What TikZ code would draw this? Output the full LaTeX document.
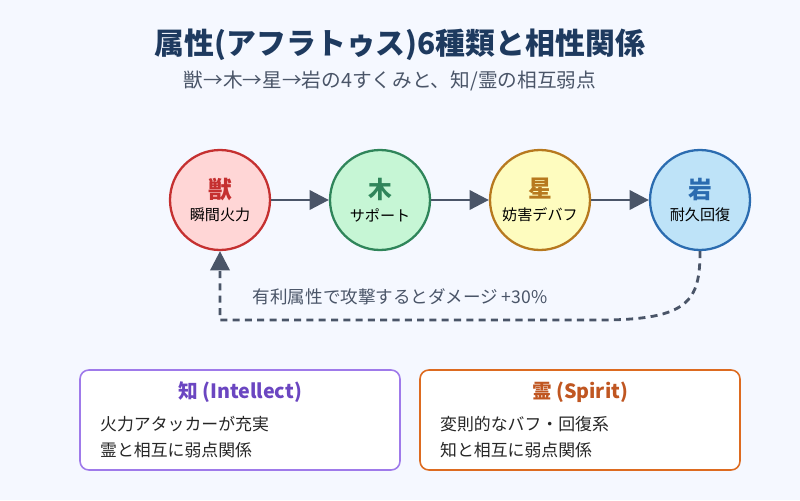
\documentclass[tikz,border=0pt]{standalone}
\usepackage{fontspec}
\setmainfont{Noto Sans CJK JP}
\usetikzlibrary{arrows.meta,positioning}
\definecolor{bgc}{HTML}{F5F8FF}
\definecolor{navy}{HTML}{1E3A5F}
\definecolor{greyt}{HTML}{4A5568}
\definecolor{redf}{HTML}{FFD6D6}\definecolor{redd}{HTML}{C53030}
\definecolor{grnf}{HTML}{C6F6D5}\definecolor{grnd}{HTML}{2F855A}
\definecolor{ylwf}{HTML}{FEFCBF}\definecolor{ylwd}{HTML}{B7791F}
\definecolor{bluf}{HTML}{BEE3F8}\definecolor{blud}{HTML}{2B6CB0}
\definecolor{purd}{HTML}{9F7AEA}\definecolor{purt}{HTML}{6B46C1}
\definecolor{ord}{HTML}{DD6B20}\definecolor{ort}{HTML}{C05621}
\tikzset{
  attr/.style={circle, line width=1.3pt, minimum size=2cm, inner sep=0pt, align=center},
  flow/.style={-{Triangle[length=11pt,width=11pt]}, line width=1.6pt, greyt},
  infobox/.style={draw, line width=0.9pt, rounded corners=5pt, fill=white, minimum width=6.4cm, minimum height=2cm},
}
\newcommand{\attrtext}[3]{{\color{#1}\fontsize{13.5}{15}\selectfont\bfseries #2}\\[1pt]{\fontsize{8.6}{10}\selectfont #3}}
\begin{document}
\begin{tikzpicture}[x=0.02cm,y=-0.02cm]
\fill[bgc] (0,0) rectangle (800,500);
\useasboundingbox (0,0) rectangle (800,500);
\node[navy, font=\fontsize{17}{20}\selectfont\bfseries] (title) at (400,45) {属性(アフラトゥス)6種類と相性関係};
\node[greyt, font=\fontsize{11.2}{13}\selectfont] (subtitle) at (390,81) {獣→木→星→岩の4すくみと、知/霊の相互弱点};

\node[attr, draw=redd, fill=redf] (beast) at (220,200) {\attrtext{redd}{獣}{瞬間火力}};
\node[attr, draw=grnd, fill=grnf] (wood) at (380,200) {\attrtext{grnd}{木}{サポート}};
\node[attr, draw=ylwd, fill=ylwf] (star) at (540,200) {\attrtext{ylwd}{星}{妨害デバフ}};
\node[attr, draw=blud, fill=bluf] (rock) at (700,200) {\attrtext{blud}{岩}{耐久回復}};

\draw[flow] (beast) -- (wood);
\draw[flow] (wood) -- (star);
\draw[flow] (star) -- (rock);
\draw[flow, dashed, dash pattern=on 4pt off 3pt] (rock.south) .. controls (700,300) and (690,320) .. (600,320) -- (220,320) -- (beast.south);
\node[greyt, font=\fontsize{10}{12}\selectfont] (bonus) at (400,297) {有利属性で攻撃するとダメージ +30\%};

\node[infobox, draw=purd] (intl) at (240,420) {};
\node[purt, font=\fontsize{11.2}{13}\selectfont\bfseries] at (240,392) {知 (Intellect)};
\node[anchor=west, align=left, font=\fontsize{9.6}{15}\selectfont, text=black!85] at (94,437) {火力アタッカーが充実\\霊と相互に弱点関係};

\node[infobox, draw=ord] (spir) at (580,420) {};
\node[ort, font=\fontsize{11.2}{13}\selectfont\bfseries] at (580,392) {霊 (Spirit)};
\node[anchor=west, align=left, font=\fontsize{9.6}{15}\selectfont, text=black!85] at (434,437) {変則的なバフ・回復系\\知と相互に弱点関係};
\end{tikzpicture}
\end{document}
